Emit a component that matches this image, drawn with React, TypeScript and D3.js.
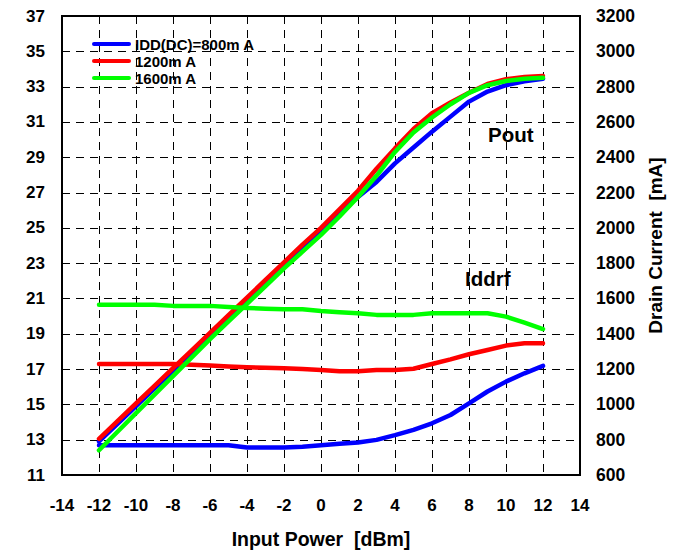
import React from 'react';
import * as d3 from 'd3';

// input power sweep (dBm)
const inputPower = [-12, -11, -10, -9, -8, -7, -6, -5, -4, -3, -2, -1, 0, 1, 2, 3, 4, 5, 6, 7, 8, 9, 10, 11, 12];

// Pout (dBm, left axis)
const poutBlue = [12.9, 13.9, 14.9, 15.9, 16.9, 17.9, 18.9, 19.9, 20.9, 21.9, 22.9, 23.9, 24.8, 25.85, 26.75, 27.6, 28.65, 29.55, 30.45, 31.3, 32.15, 32.72, 33.08, 33.3, 33.45];
const poutRed = [13.05, 14.05, 15.05, 16.05, 17.05, 18.05, 19.05, 20.05, 21.05, 22.05, 23.05, 24.05, 25.0, 26.05, 27.1, 28.35, 29.5, 30.6, 31.5, 32.1, 32.65, 33.15, 33.42, 33.55, 33.6];
const poutGreen = [12.4, 13.45, 14.5, 15.55, 16.6, 17.65, 18.7, 19.7, 20.7, 21.7, 22.7, 23.65, 24.6, 25.65, 26.75, 27.95, 29.3, 30.4, 31.25, 32.0, 32.65, 33.08, 33.32, 33.45, 33.5];

// Iddrf (mA, right axis)
const iddBlue = [769, 769, 769, 769, 769, 769, 769, 769, 756, 756, 756, 760, 769, 777, 784, 799, 826, 856, 893, 940, 1006, 1073, 1129, 1176, 1218];
const iddRed = [1229, 1229, 1229, 1229, 1229, 1225, 1220, 1215, 1210, 1207, 1205, 1200, 1195, 1188, 1188, 1195, 1195, 1202, 1229, 1255, 1284, 1308, 1333, 1346, 1346];
const iddGreen = [1565, 1565, 1565, 1565, 1558, 1558, 1558, 1552, 1546, 1542, 1539, 1539, 1529, 1522, 1516, 1507, 1507, 1507, 1516, 1516, 1516, 1516, 1497, 1463, 1427];

const xTicks = [-14, -12, -10, -8, -6, -4, -2, 0, 2, 4, 6, 8, 10, 12, 14];
const leftTicks = [11, 13, 15, 17, 19, 21, 23, 25, 27, 29, 31, 33, 35, 37];
const rightTicks = [600, 800, 1000, 1200, 1400, 1600, 1800, 2000, 2200, 2400, 2600, 2800, 3000, 3200];

const legendLabels = ['IDD(DC)=800m A', '1200m A', '1600m A'];
const colors = ['#0000ff', '#ff0000', '#00ff00'];

export default function App() {
  const W = 681, H = 550;
  const left = 62, right = 580, top = 16, bottom = 475;

  const x = d3.scaleLinear().domain([-14, 14]).range([left, right]);
  const yL = d3.scaleLinear().domain([11, 37]).range([bottom, top]);
  const yR = d3.scaleLinear().domain([600, 3200]).range([bottom, top]);

  const lineL = d3.line<number>().x((_, i) => x(inputPower[i])).y(d => yL(d));
  const lineR = d3.line<number>().x((_, i) => x(inputPower[i])).y(d => yR(d));

  const series = [
    { pout: poutBlue, idd: iddBlue, color: colors[0] },
    { pout: poutRed, idd: iddRed, color: colors[1] },
    { pout: poutGreen, idd: iddGreen, color: colors[2] },
  ];

  const crisp = (v: number) => Math.round(v) + 0.5;
  const font = 'Arial, "Liberation Sans", sans-serif';

  return (
    <svg width={W} height={H} style={{ position: 'absolute', left: 0, top: 0, background: '#fff' }} fontFamily={font}>
      {/* grid */}
      <g stroke="#000" strokeWidth={1} strokeDasharray="8,6" shapeRendering="crispEdges">
        {xTicks.slice(1, -1).map(t => (
          <line key={'gx' + t} x1={crisp(x(t))} x2={crisp(x(t))} y1={top} y2={bottom} />
        ))}
        {leftTicks.slice(1, -1).map(t => (
          <line key={'gy' + t} x1={left} x2={right} y1={crisp(yL(t))} y2={crisp(yL(t))} />
        ))}
      </g>

      {/* curves */}
      {series.map((s, i) => (
        <g key={i} fill="none" stroke={s.color} strokeWidth={4.5} strokeLinejoin="round" strokeLinecap="round">
          <path d={lineR(s.idd) || ''} />
          <path d={lineL(s.pout) || ''} />
        </g>
      ))}

      {/* frame */}
      <rect x={left} y={top} width={right - left} height={bottom - top} fill="none" stroke="#000" strokeWidth={2} />

      {/* tick labels */}
      <g fontSize={17} fontWeight="bold" fill="#000">
        {xTicks.map(t => (
          <text key={'xl' + t} x={x(t)} y={511} textAnchor="middle">{t}</text>
        ))}
        {leftTicks.map(t => (
          <text key={'ll' + t} x={45} y={yL(t)} textAnchor="end" dominantBaseline="central">{t}</text>
        ))}
        {rightTicks.map(t => (
          <text key={'rl' + t} x={596} y={yR(t)} textAnchor="start" dominantBaseline="central" fontSize={17.5}>{t}</text>
        ))}
      </g>

      {/* axis titles */}
      <text x={321} y={545.5} textAnchor="middle" fontSize={19.5} fontWeight="bold" style={{ whiteSpace: 'pre' }}>
        {'Input Power  [dBm]'}
      </text>
      <text
        transform={`translate(662, ${(top + bottom) / 2}) rotate(-90)`}
        textAnchor="middle"
        fontSize={19}
        fontWeight="bold"
        style={{ whiteSpace: 'pre' }}
      >
        {'Drain Current  [mA]'}
      </text>

      {/* annotations */}
      <text x={488} y={142} fontSize={20.5} fontWeight="bold">Pout</text>
      <text x={465} y={286} fontSize={20.5} fontWeight="bold">Iddrf</text>

      {/* legend */}
      {legendLabels.map((lab, i) => (
        <g key={lab}>
          <line x1={94} x2={129} y1={44 + i * 17} y2={44 + i * 17} stroke={colors[i]} strokeWidth={4} strokeLinecap="round" />
          <text x={135} y={50 + i * 17} fontSize={15} fontWeight="bold">{lab}</text>
        </g>
      ))}
    </svg>
  );
}
